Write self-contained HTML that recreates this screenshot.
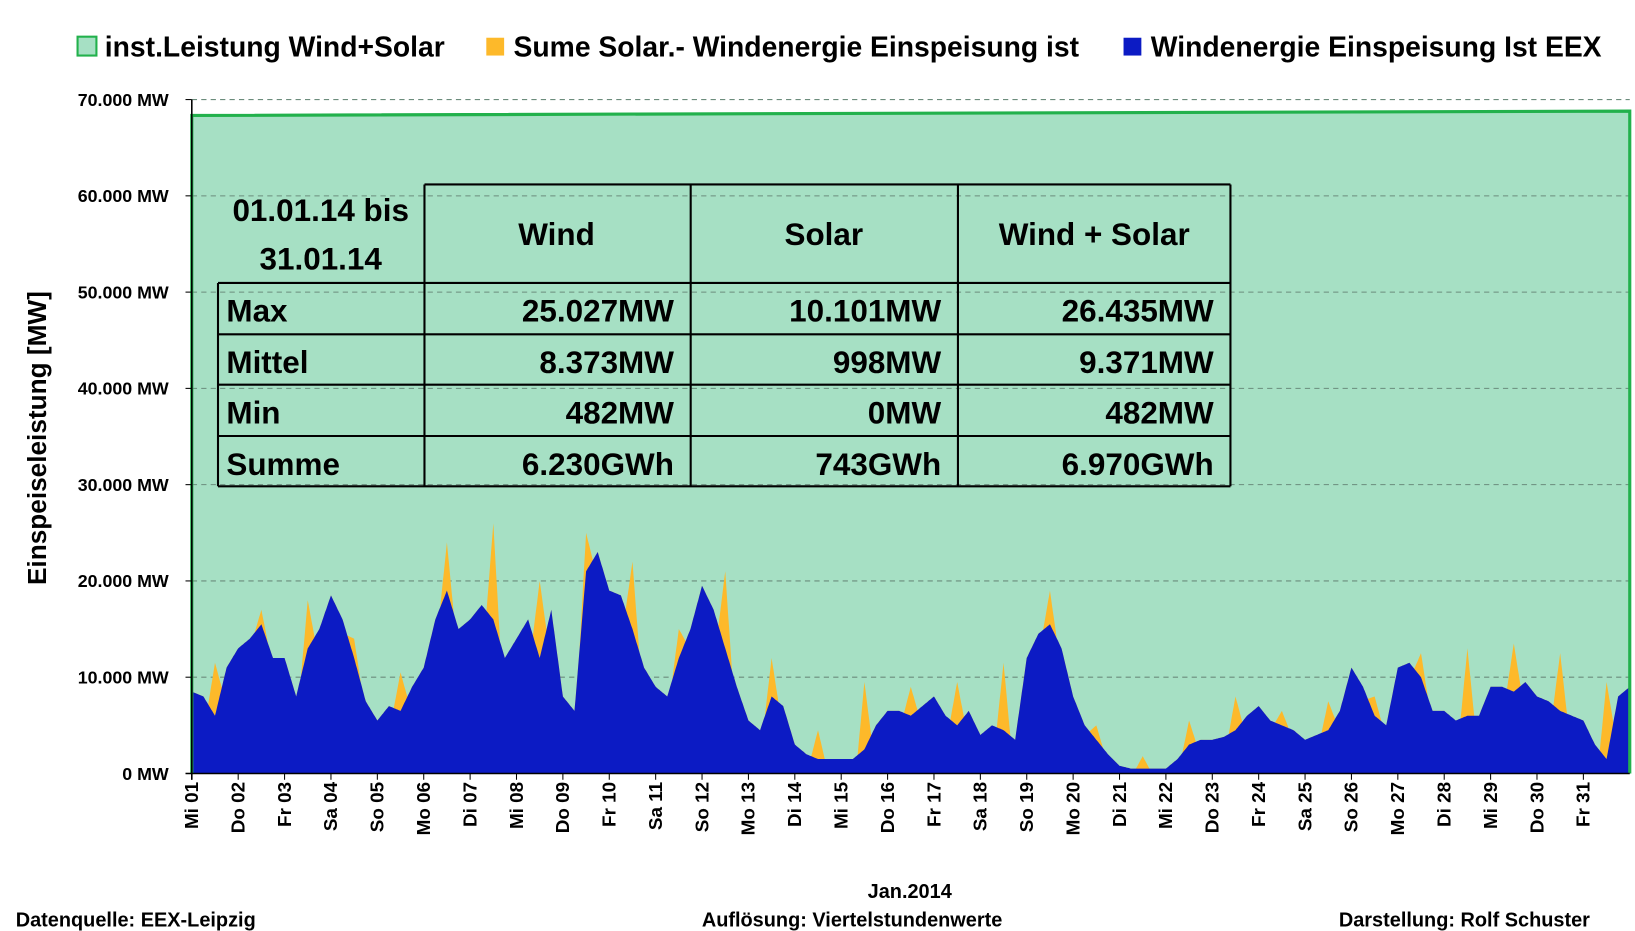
<!DOCTYPE html>
<html><head><meta charset="utf-8">
<style>
body{margin:0;background:#fff;font-family:"Liberation Sans",sans-serif;overflow:hidden;}
svg{display:block;}
svg text{font-family:"Liberation Sans",sans-serif;font-weight:bold;}
</style></head>
<body>
<svg id="c" width="1635" height="931" viewBox="0 0 1560 888.3" preserveAspectRatio="none" xmlns="http://www.w3.org/2000/svg">
<g>
 <rect x="74" y="35" width="18" height="18" fill="#a6e0c4" stroke="#22b14c" stroke-width="2"/>
 <text x="100" y="54" font-size="27">inst.Leistung Wind+Solar</text>
 <rect x="464" y="36" width="17" height="17" fill="#fdb92a"/>
 <text x="490" y="54" font-size="27">Sume Solar.- Windenergie Einspeisung ist</text>
 <rect x="1072" y="36" width="17" height="17" fill="#0c1bc4"/>
 <text x="1098" y="54" font-size="27">Windenergie Einspeisung Ist EEX</text>
</g>
<g id="plot"></g>
<text transform="translate(44,418) rotate(-90)" text-anchor="middle" font-size="25">Einspeiseleistung  [MW]</text>
<text x="868" y="857" text-anchor="middle" font-size="19">Jan.2014</text>
<text x="15" y="884" font-size="19">Datenquelle:  EEX-Leipzig</text>
<text x="813" y="884" text-anchor="middle" font-size="19">Auflösung: Viertelstundenwerte</text>
<text x="1517" y="884" text-anchor="end" font-size="19">Darstellung: Rolf Schuster</text>
<g font-size="30" stroke="none">
 <g stroke="#000" stroke-width="2" fill="none">
  <line x1="405" y1="176" x2="1174" y2="176"/>
  <line x1="208" y1="270" x2="1174" y2="270"/>
  <line x1="208" y1="319" x2="1174" y2="319"/>
  <line x1="208" y1="367" x2="1174" y2="367"/>
  <line x1="208" y1="416" x2="1174" y2="416"/>
  <line x1="208" y1="464" x2="1174" y2="464"/>
  <line x1="208" y1="270" x2="208" y2="464"/>
  <line x1="405" y1="176" x2="405" y2="464"/>
  <line x1="659" y1="176" x2="659" y2="464"/>
  <line x1="914" y1="176" x2="914" y2="464"/>
  <line x1="1174" y1="176" x2="1174" y2="464"/>
 </g>
 <text x="306" y="211" text-anchor="middle">01.01.14 bis</text>
 <text x="306" y="257" text-anchor="middle">31.01.14</text>
 <text x="531" y="234" text-anchor="middle">Wind</text>
 <text x="786" y="234" text-anchor="middle">Solar</text>
 <text x="1044" y="234" text-anchor="middle">Wind + Solar</text>
 <text x="216" y="307">Max</text><text x="643" y="307" text-anchor="end">25.027MW</text><text x="898" y="307" text-anchor="end">10.101MW</text><text x="1158" y="307" text-anchor="end">26.435MW</text>
 <text x="216" y="356">Mittel</text><text x="643" y="356" text-anchor="end">8.373MW</text><text x="898" y="356" text-anchor="end">998MW</text><text x="1158" y="356" text-anchor="end">9.371MW</text>
 <text x="216" y="404">Min</text><text x="643" y="404" text-anchor="end">482MW</text><text x="898" y="404" text-anchor="end">0MW</text><text x="1158" y="404" text-anchor="end">482MW</text>
 <text x="216" y="453">Summe</text><text x="643" y="453" text-anchor="end">6.230GWh</text><text x="898" y="453" text-anchor="end">743GWh</text><text x="1158" y="453" text-anchor="end">6.970GWh</text>
</g>
</svg>
<script>
const dayLabels=["Mi 01","Do 02","Fr 03","Sa 04","So 05","Mo 06","Di 07","Mi 08","Do 09","Fr 10","Sa 11","So 12","Mo 13","Di 14","Mi 15","Do 16","Fr 17","Sa 18","So 19","Mo 20","Di 21","Mi 22","Do 23","Fr 24","Sa 25","So 26","Mo 27","Di 28","Mi 29","Do 30","Fr 31"];
const yTicks=[0,10000,20000,30000,40000,50000,60000,70000];
const yTickLabels=["0 MW","10.000 MW","20.000 MW","30.000 MW","40.000 MW","50.000 MW","60.000 MW","70.000 MW"];
// wind at 00,06,12,18h each day (MW)
const wind=[8500,8000,6000,11000, 13000,14000,15500,12000, 12000,8000,13000,15000, 18500,16000,12000,7500,
 5500,7000,6500,9000, 11000,16000,19000,15000, 16000,17500,16000,12000, 14000,16000,12000,17000,
 8000,6500,21000,23000, 19000,18500,15000,11000, 9000,8000,12000,15000, 19500,17000,13000,9000,
 5500,4500,8000,7000, 3000,2000,1500,1500, 1500,1500,2500,5000, 6500,6500,6000,7000,
 8000,6000,5000,6500, 4000,5000,4500,3500, 12000,14500,15500,13000, 8000,5000,3500,2000,
 800,500,500,500, 500,1500,3000,3500, 3500,3800,4500,6000, 7000,5500,5000,4500,
 3500,4000,4500,6500, 11000,9000,6000,5000, 11000,11500,10000,6500, 6500,5500,6000,6000,
 9000,9000,8500,9500, 8000,7500,6500,6000, 5500,3000,1500,8000, 9000];
// solar noon peak per day (MW)
const solar=[5500,1500,5000,2000,4000,5000,10000,8000,4000,7000,3000,8000,4000,3000,7000,3000,4500,7000,3500,1500,1300,2500,3500,1500,3000,2000,2500,7000,5000,6000,8000];
const instStart=68350, instEnd=68800;

const X0=183,X1=1555,Y0=738,Y70=95;
const days=31;
const x=d=>X0+(X1-X0)*d/days;
const y=v=>Y0-(Y0-Y70)*v/70000;
const NS="http://www.w3.org/2000/svg";
const plot=document.getElementById('plot');
function mk(tag,attrs){const e=document.createElementNS(NS,tag);for(const k in attrs)e.setAttribute(k,attrs[k]);plot.appendChild(e);return e;}

const inst=mk('path',{d:`M${x(0)},${y(0)}L${x(0)},${y(instStart)}L${x(days)},${y(instEnd)}L${x(days)},${y(0)}Z`,fill:'#a6e0c4'});


yTicks.forEach((t,i)=>{
 if(t>0){const g=mk('line',{x1:X0,x2:X1,y1:y(t),y2:y(t),stroke:'#6b8c7c','stroke-width':1,'stroke-dasharray':'5,4'});
 
 }
 const tx=mk('text',{x:161,y:y(t)+6,'text-anchor':'end','font-size':17});
 tx.textContent=yTickLabels[i];
 
 
});
function windAt(d){const p=d*4;const i=Math.min(Math.floor(p),wind.length-2);const f=p-i;return wind[i]*(1-f)+wind[i+1]*f;}
function solarAt(d){const di=Math.floor(d);if(di>=days)return 0;const h=(d-di)*24;if(h<8.5||h>15.5)return 0;return solar[di]*(1-Math.abs(h-12)/3.5);}
let tot=`M${x(0)},${y(0)}`,wp=`M${x(0)},${y(0)}`;
for(let k=0;k<=days*48;k++){const d=k/48;const w=windAt(d);tot+=`L${x(d).toFixed(1)},${y(w+solarAt(d)).toFixed(1)}`;wp+=`L${x(d).toFixed(1)},${y(w).toFixed(1)}`;}
tot+=`L${x(days)},${y(0)}Z`;wp+=`L${x(days)},${y(0)}Z`;
const sa=mk('path',{d:tot,fill:'#fdb92a'});


const wa=mk('path',{d:wp,fill:'#0c1bc4'});


const il=mk('path',{d:`M${x(0)},${y(0)}L${x(0)},${y(instStart)}L${x(days)},${y(instEnd)}L${x(days)},${y(0)}`,fill:'none',stroke:'#22b14c','stroke-width':3});


mk('line',{x1:X0-6,x2:X1,y1:Y0,y2:Y0,stroke:'#000','stroke-width':1.5});
mk('line',{x1:X0,x2:X0,y1:Y70,y2:Y0+6,stroke:'#000','stroke-width':1.5});
yTicks.forEach(t=>mk('line',{x1:X0-6,x2:X0,y1:y(t),y2:y(t),stroke:'#000'}));
dayLabels.forEach((l,i)=>{
 mk('line',{x1:x(i),x2:x(i),y1:Y0,y2:Y0+6,stroke:'#000'});
 const t=mk('text',{transform:`translate(${x(i)+6},${Y0+8}) rotate(-90)`,'text-anchor':'end','font-size':18});
 t.textContent=l;
 
 
});
</script>
</body></html>
